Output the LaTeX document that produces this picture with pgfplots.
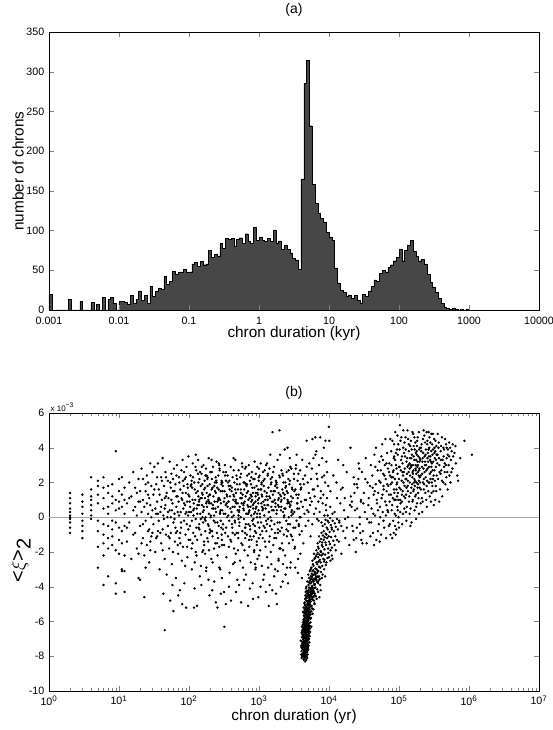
\documentclass[border=0pt]{standalone}
\usepackage{pgfplots}
\pgfplotsset{compat=1.18}
\usepackage{fontspec}
\setmainfont{Liberation Sans}
\begin{document}
\begin{tikzpicture}
\path[use as bounding box] (0,0) rectangle (414pt,547.5pt);
\begin{axis}[
  name=a,
  at={(36.75pt,315pt)}, anchor=south west,
  width=367.5pt, height=208.5pt, scale only axis,
  xmode=log, xmin=0.001, xmax=10000,
  ymin=0, ymax=350,
  xtick={0.001,0.01,0.1,1,10,100,1000,10000},
  xticklabels={0.001,0.01,0.1,1,10,100,1000,10000},
  ytick={0,50,...,350},
  xminorticks=false,
  /pgf/number format/assume math mode=true,
  tick label style={font=\fontsize{8}{9}\selectfont},
  xticklabel style={yshift=-1.5pt},
  major tick length=4pt,
  xlabel={chron duration (kyr)},
  ylabel={number of chrons},
  label style={font=\fontsize{11.5}{13}\selectfont},
  xlabel style={at={(axis description cs:0.5,-0.083)},anchor=center},
  ylabel style={at={(axis description cs:-0.063,0.5)},anchor=center},
  title={(a)},
  title style={font=\fontsize{10.5}{12}\selectfont, at={(axis description cs:0.5,1.05)}, anchor=center},
  axis on top,
]
\addplot[const plot, fill=black!72, draw=black, line width=0.3pt] coordinates {
(1.000e-3,20) (1.096e-3,0) (1.202e-3,0) (1.318e-3,0) (1.445e-3,0) (1.585e-3,0) (1.738e-3,0) (1.905e-3,13) (2.089e-3,0) (2.291e-3,0) (2.512e-3,0) (2.754e-3,11) (3.020e-3,0) (3.311e-3,0) (3.631e-3,0) (3.981e-3,10) (4.365e-3,0) (4.786e-3,7) (5.248e-3,0) (5.754e-3,16) (6.310e-3,0) (6.918e-3,13) (7.586e-3,16) (8.318e-3,9) (9.120e-3,0)
(1.000e-2,11) (1.096e-2,11) (1.202e-2,10) (1.318e-2,7) (1.445e-2,18) (1.585e-2,8) (1.738e-2,13) (1.905e-2,24) (2.089e-2,12) (2.291e-2,18) (2.512e-2,8) (2.754e-2,30) (3.020e-2,17) (3.311e-2,24) (3.631e-2,27) (3.981e-2,26) (4.365e-2,42) (4.786e-2,32) (5.248e-2,36) (5.754e-2,49) (6.310e-2,45) (6.918e-2,47) (7.586e-2,48) (8.318e-2,51) (9.120e-2,48)
(1.000e-1,48) (1.096e-1,58) (1.202e-1,60) (1.318e-1,55) (1.445e-1,61) (1.585e-1,57) (1.738e-1,58) (1.905e-1,75) (2.089e-1,66) (2.291e-1,70) (2.512e-1,68) (2.754e-1,84) (3.020e-1,78) (3.311e-1,90) (3.631e-1,89) (3.981e-1,90) (4.365e-1,80) (4.786e-1,89) (5.248e-1,91) (5.754e-1,84) (6.310e-1,96) (6.918e-1,86) (7.586e-1,84) (8.318e-1,104) (9.120e-1,88)
(1.000,92) (1.096,88) (1.202,86) (1.318,90) (1.445,86) (1.585,101) (1.738,84) (1.905,87) (2.089,76) (2.291,81) (2.512,76) (2.754,72) (3.020,65) (3.311,63) (3.631,51) (3.981,165) (4.365,285) (4.786,314) (5.248,232) (5.754,158) (6.310,135) (6.918,122) (7.586,115) (8.318,110) (9.120,98)
(10.00,92) (10.96,88) (12.02,53) (13.18,34) (14.45,25) (15.85,22) (17.38,17) (19.05,19) (20.89,15) (22.91,18) (25.12,12) (27.54,9) (30.20,20) (33.11,17) (36.31,24) (39.81,30) (43.65,38) (47.86,36) (52.48,46) (57.54,50) (63.10,48) (69.18,54) (75.86,57) (83.18,62) (91.20,66)
(100.0,77) (109.6,62) (120.2,75) (131.8,82) (144.5,88) (158.5,74) (173.8,68) (190.5,62) (208.9,64) (229.1,58) (251.2,45) (275.4,35) (302.0,29) (331.1,22) (363.1,15) (398.1,8) (436.5,4) (478.6,2) (524.8,1) (575.4,2) (631.0,1) (691.8,0) (758.6,1) (831.8,0) (912.0,1) (1000,0)
} \closedcycle;
\end{axis}

\begin{axis}[
  name=b,
  at={(36.75pt,29.25pt)}, anchor=south west,
  width=367.5pt, height=208.5pt, scale only axis,
  xmode=log, xmin=1, xmax=1e7,
  ymin=-10, ymax=6,
  ytick={-10,-8,...,6},
  xtick={1,10,100,1000,10000,100000,1000000,10000000},
  xticklabels={10\textsuperscript{0},10\textsuperscript{1},10\textsuperscript{2},10\textsuperscript{3},10\textsuperscript{4},10\textsuperscript{5},10\textsuperscript{6},10\textsuperscript{7}},
  /pgf/number format/assume math mode=true,
  tick label style={font=\fontsize{8}{9}\selectfont},
  major tick length=4pt, minor tick length=2pt,
  xlabel={chron duration (yr)},
  ylabel={<$\xi$>\raisebox{-0.3em}{2}},
  xlabel style={font=\fontsize{11.5}{13}\selectfont, at={(axis description cs:0.5,-0.0935)},anchor=center},
  ylabel style={font=\fontsize{15}{17}\selectfont, at={(axis description cs:-0.057,0.47)},anchor=center},
  title={(b)},
  title style={font=\fontsize{10.5}{12}\selectfont, at={(axis description cs:0.5,1.043)}, anchor=center},
]
\addplot[gray!70, line width=1pt] coordinates {(1,0) (1e7,0)};
\addplot[only marks, mark=*, mark size=0.7pt, mark options={draw=none, fill=black}] coordinates {
(2,-0.9)(2,-0.6)(2,-0.3)(2,-0.1)(2,0.1)(2,0.3)(2,0.5)(2,0.8)(2,1.1)(2,1.4)(2,0.0)
(3,1.3)(3,0.9)(3,0.6)(3,0.2)(3,-0.2)(3,-0.5)(3,-0.8)(3,-1.2)
(4,2.3)(4,1.6)(4,1.2)(4,1.0)(4,0.7)(4,0.4)(4,0.1)(4,-0.1)
(5,2.1)(5,1.8)(5,1.3)(5,0.8)(5,-0.2)(5,-0.8)(5,-1.7)(5,-2.9)
(6,2.3)(6,1.7)(6,1.1)(6,0.5)(6,-0.4)(6,-1.0)(6,-1.5)(6,-2.2)(6,-3.9)
(7,1.8)(7,1.4)(7,0.6)(7,0.2)(7,-0.5)(7,-1.2)(7,-1.8)(7,-3.4)
(8,1.9)(8,1.2)(8,0.8)(8,-0.2)(8,-0.7)(8,-1.1)(8,-1.6)
(9,3.8)(9,1.0)(9,0.4)(9,-0.3)(9,-1.9)(9,-3.8)(9,-4.4)
(10,2.2)(10,1.5)(10,0.9)(10,0.5)(10,-0.6)(10,-1.3)(10,-2.1)
(11,2.3)(11,1.3)(11,0.6)(11,-0.8)(11,-1.5)(11,-3.0)(11,-3.1)
(12,1.7)(12,1.0)(12,0.2)(12,-0.5)(12,-2.2)(12,-4.3)
(13,0.8)(13,-1.4)(14,2.0)(14,-0.3)(15,1.2)(15,-2.4)(16,0.4)(16,2.6)(17,-0.9)(17,1.7)(18,0.1)(18,-1.8)(19,2.2)(19,0.9)(20,-0.5)(20,1.5)(20,-3.6)(21,0.3)(21,2.8)(22,-1.2)(22,1.0)(23,-2.2)(23,0.6)(23,-4.6)(24,1.9)(24,-0.2)(25,2.4)(25,-1.6)(26,0.2)(26,1.3)(27,-2.6)(27,-0.7)(28,3.1)(28,0.7)(29,-1.1)(29,1.8)(13,-0.6)(14,1.1)(16,-1.0)(17,0.6)(18,1.4)(19,-2.1)(21,-1.5)(22,2.2)(24,-2.9)(26,-0.8)(27,1.1)(28,-1.9)(29,0.0)(30,2.6)(19,-3.5)(12,-3.1)
(31,1.3)(31,-0.4)(32,2.9)(33,0.5)(33,-2.0)(34,1.9)(35,-1.1)(35,0.9)(36,3.1)(37,-0.2)(37,1.6)(38,-3.0)(39,0.3)(40,2.3)(40,-1.5)(41,1.0)(42,-0.7)(42,3.4)(43,0.1)(44,1.8)(45,-6.5)(45,-2.4)(46,0.7)(46,2.6)(47,-1.0)(48,1.4)(48,-3.3)(49,0.0)(50,2.1)(50,-0.5)(51,1.1)(52,-1.8)(53,3.2)(53,0.4)(54,-4.8)(55,1.7)(55,-0.9)(56,2.5)(57,-2.7)(58,0.8)(59,1.5)(60,-0.3)(60,-5.4)(61,2.8)(62,0.2)(63,-1.4)(64,1.9)(65,-3.5)(66,0.6)(67,3.0)(68,-0.8)(69,1.2)(70,-2.1)(71,0.9)(72,2.3)(73,-1.2)(74,-4.2)(75,1.6)(76,0.3)(77,-0.6)(78,2.7)(79,-2.5)(80,1.0)(81,3.3)(82,-1.7)(83,0.5)(84,1.8)(85,-0.2)(86,-3.8)(87,2.2)(88,0.7)(89,-1.0)(90,1.4)(91,-5.2)(92,2.9)(93,-0.4)(94,0.9)(95,-2.3)(96,1.7)(97,0.1)(98,3.5)(99,-1.3)(34,-1.2)(36,0.2)(39,-0.9)(41,2.1)(44,-0.1)(47,1.2)(51,-1.1)(54,2.0)(57,0.4)(59,-2.0)(62,1.5)(64,-0.6)(66,2.4)(69,-1.6)(72,0.1)(75,-0.9)(78,1.1)(82,2.1)(85,0.8)(88,-2.8)(92,0.3)(95,1.9)(98,-0.7)(43,-4.4)(58,-3.9)(70,-4.5)(80,-5.0)
(101,1.2)(103,-0.5)(105,2.4)(107,0.3)(109,-1.8)(111,1.7)(113,3.1)(115,-0.9)(117,0.8)(119,2.0)(121,-2.6)(123,1.0)(125,-0.1)(127,2.7)(129,0.5)(131,-1.3)(133,1.5)(135,3.3)(137,-0.6)(139,0.9)(141,2.2)(143,-3.4)(145,0.2)(147,1.8)(149,-1.0)(151,2.5)(153,0.7)(155,-2.0)(157,1.3)(159,-0.3)(161,3.0)(163,0.4)(165,-1.6)(167,2.1)(169,1.1)(171,-0.8)(173,0.0)(175,2.8)(177,-2.9)(179,1.4)(181,0.6)(183,-1.2)(185,2.3)(187,-0.4)(189,1.0)(191,3.4)(193,-1.9)(195,0.8)(197,1.9)(199,-0.7)(202,2.6)(205,0.1)(208,-2.4)(211,1.6)(214,0.5)(217,-1.1)(220,2.9)(223,1.2)(226,-0.2)(229,-3.7)(232,0.9)(235,2.0)(238,-1.5)(241,1.4)(244,0.3)(247,3.2)(250,-0.9)(253,1.7)(256,-2.2)(259,0.6)(262,2.4)(265,-0.5)(268,1.1)(271,-1.7)(274,2.7)(277,0.2)(280,-3.0)(283,1.5)(286,0.8)(289,-0.6)(292,2.1)(295,-1.3)(298,0.4)
(104,0.6)(108,1.9)(112,-1.5)(116,0.1)(120,-4.1)(124,2.9)(128,-2.2)(132,0.7)(136,1.2)(140,-0.4)(144,2.6)(148,-2.8)(152,1.1)(156,0.0)(160,-1.9)(164,1.6)(168,-0.1)(172,2.4)(176,-3.1)(180,0.9)(184,1.8)(188,-1.4)(192,0.2)(196,-4.5)(200,1.3)(206,-0.8)(212,2.2)(218,-2.6)(224,0.5)(230,1.8)(236,-0.3)(242,-4.9)(248,2.0)(254,0.9)(260,-1.2)(266,3.1)(272,-2.9)(278,1.0)(284,-0.2)(290,1.9)(296,-3.5)(110,-3.0)(130,-5.1)(150,-3.9)(118,-5.2)(190,-3.6)(215,-4.2)(255,-5.2)(285,-4.4)(125,3.6)(210,3.3)(270,3.0)(320,-6.3)
(302,1.5)(306,-0.4)(310,2.6)(314,0.2)(318,-1.6)(322,1.1)(326,3.0)(330,-0.9)(334,0.7)(338,2.1)(342,-2.3)(346,1.3)(350,0.0)(355,2.4)(360,-1.1)(365,0.9)(370,1.8)(375,-0.2)(380,-3.2)(385,1.2)(390,0.5)(395,2.9)(400,-1.4)(405,0.3)(410,1.7)(415,-0.6)(420,2.3)(425,-2.7)(430,1.0)(435,0.1)(440,-1.8)(445,2.0)(450,0.6)(455,-0.3)(460,3.3)(465,-2.1)(470,1.4)(475,0.8)(480,-0.9)(485,2.2)(490,-3.6)(495,0.4)(500,1.6)(506,-1.2)(512,2.7)(518,0.3)(524,-0.5)(530,1.9)(536,-2.5)(542,1.1)(548,0.0)(554,2.5)(560,-1.5)(566,0.8)(572,3.1)(578,-0.8)(584,1.3)(590,-2.9)(596,0.5)(602,2.0)(608,-0.1)(614,1.6)(620,-1.9)(626,0.9)(632,2.8)(638,-0.6)(644,1.2)(650,-3.3)(657,0.2)(664,1.8)(671,-1.0)(678,2.4)(685,0.7)(692,-2.2)(699,1.5)(706,-0.4)(713,3.0)(720,0.3)(727,-1.7)(734,1.1)(741,2.1)(748,-0.7)(755,0.6)(762,-2.6)(769,1.9)(776,0.1)(783,-1.3)(790,2.6)(797,1.0)(804,-0.2)(811,-3.8)(818,1.4)(825,0.5)(832,2.2)(839,-1.1)(846,0.8)(853,-2.0)(860,1.7)(867,3.2)(874,-0.5)(881,0.3)(888,-3.0)(895,1.2)(902,2.5)(909,-0.9)(916,0.6)(923,1.8)(930,-1.6)(937,0.0)(944,2.9)(951,-2.4)(958,1.0)(965,-0.3)(972,1.6)(979,-4.6)(986,0.4)(993,2.3)
(316,-4.3)(335,-5.0)(372,-4.0)(398,-4.8)(433,3.4)(470,-4.3)(520,-3.9)(555,-4.9)(610,-3.6)(700,-5.1)(740,-4.1)(820,-4.7)(900,-2.9)(345,0.8)(380,1.6)(420,-0.9)(460,0.9)(510,-0.1)(550,1.4)(600,0.7)(650,1.9)(700,0.2)(760,1.3)(830,-0.4)(890,0.9)(950,1.4)(360,2.0)(440,1.2)(530,0.6)(630,-0.9)(730,0.4)(850,0.2)(990,-1.2)
(1005,1.1)(1012,-0.6)(1020,2.4)(1030,0.2)(1040,-1.9)(1050,1.6)(1060,3.1)(1070,-0.3)(1080,0.8)(1090,2.0)(1100,-2.8)(1110,1.2)(1120,0.4)(1130,-1.2)(1140,2.6)(1150,0.9)(1160,-0.5)(1170,1.8)(1180,-3.3)(1190,0.1)(1200,2.2)(1215,-1.4)(1230,1.0)(1245,0.5)(1260,3.0)(1275,-0.8)(1290,1.4)(1305,-2.3)(1320,0.7)(1335,2.5)(1350,-0.1)(1365,1.7)(1380,-5.1)(1395,0.3)(1410,2.8)(1425,-1.1)(1440,1.1)(1455,0.0)(1470,-2.0)(1485,1.9)(1500,0.6)(1520,-0.7)(1540,2.3)(1560,4.9)(1580,1.3)(1600,-1.6)(1620,0.4)(1640,2.9)(1660,-0.4)(1680,1.5)(1700,-3.0)(1720,0.8)(1740,2.1)(1760,-1.2)(1780,0.2)(1800,-5.0)(1820,1.7)(1840,3.3)(1860,-0.9)(1880,1.0)(1900,-2.5)(1920,0.6)(1940,2.4)(1960,5.0)(1980,-0.3)(2000,1.3)(2030,-1.8)(2060,0.9)(2090,2.7)(2120,-0.6)(2150,1.6)(2180,-3.7)(2210,0.3)(2240,2.0)(2270,-1.0)(2300,1.1)(2330,3.9)(2360,-2.2)(2390,0.5)(2420,1.8)(2450,-0.2)(2480,2.6)(2510,-2.9)(2540,0.8)(2570,1.4)(2600,-0.8)(2630,2.2)(2660,0.0)(2690,-1.5)(2720,1.9)(2750,3.4)(2780,-0.4)(2810,0.7)(2840,-2.6)(2870,1.2)(2900,2.8)(2930,-1.1)(2960,0.4)(2990,1.6)
(1050,-4.0)(1150,-3.6)(1250,-4.3)(1350,-2.9)(1420,-3.9)(1550,-4.2)(1650,-3.4)(1750,-4.4)(1850,-3.1)(2050,-4.0)(2200,-2.7)(2400,-3.3)(2600,-3.8)(2800,-2.9)(1100,0.6)(1200,1.5)(1300,-0.4)(1400,1.2)(1500,2.0)(1600,0.9)(1700,1.8)(1800,0.4)(1900,1.4)(2000,-0.8)(2100,1.0)(2200,2.4)(2300,0.5)(2500,1.5)(2700,0.8)(2900,0.1)(2550,4.0)(2000,3.6)(1450,3.6)
(3050,1.1)(3100,-0.6)(3150,2.5)(3200,0.3)(3260,-1.7)(3320,1.6)(3380,3.0)(3440,-0.2)(3500,0.8)(3560,2.1)(3620,-2.4)(3680,1.3)(3740,0.5)(3800,-1.0)(3870,2.7)(3940,0.0)(4010,1.7)(4080,-0.8)(4150,3.3)(4220,0.6)(4300,-1.5)(4380,1.9)(4460,0.2)(4540,2.4)(4620,-0.5)(4700,1.0)(4790,4.4)(4880,0.4)(4970,2.0)(5060,-0.2)(5150,1.4)(5250,3.1)(5350,0.7)(5450,-1.1)(5550,2.2)(5660,0.9)(5770,-0.4)(5880,1.6)(6000,3.4)(6120,0.2)(6240,1.2)(6370,4.6)(6500,0.5)(6630,2.5)(6770,-0.1)(6910,1.8)(7050,0.9)(7200,3.0)(7350,0.3)(7500,4.6)(7650,1.5)(7800,-0.3)(7960,2.3)(8120,0.8)(8290,1.3)(8460,4.0)(8630,0.1)(8810,2.0)(9000,0.7)(9180,3.2)(9370,1.1)(9560,-0.2)(9760,1.8)(9960,5.2)(3300,-2.9)(3600,-3.2)(3900,-2.1)(4100,-3.5)(3450,3.6)(3700,-0.5)(4000,0.9)(4250,2.2)(4500,1.0)(4800,2.9)(5100,0.3)(5400,1.1)(5700,2.8)(6100,1.6)(6400,3.6)(6800,2.2)(7100,-0.2)(7600,1.1)(8000,3.4)(8500,2.4)(9100,0.4)(9400,2.6)(10100,4.4)(10400,0.6)(8900,4.4)(6600,3.8)(5800,4.5)
(10500,1.5)(11000,-0.7)(11500,2.4)(12000,0.3)(12500,-1.9)(13000,1.1)(13500,3.3)(14000,-0.2)(14500,0.8)(15000,-2.1)(15700,1.7)(16400,0.4)(17100,-1.2)(17900,2.6)(18700,0.0)(19500,-1.6)(20300,4.0)(21200,0.9)(22100,-0.8)(23100,1.4)(24100,-2.0)(25200,0.5)(26300,2.2)(27500,-0.4)(28700,1.0)(30000,-1.5)(11200,-2.4)(12800,2.0)(14800,1.6)(16000,3.0)(18000,-0.6)(20000,0.7)(22500,-1.3)(25000,1.9)(28000,-0.9)(13800,-1.4)(16800,1.1)
(4150,-8.0)(4300,-7.9)(4420,-8.1)(4600,-7.8)(4780,-8.0)(4950,-7.9)(4050,-7.7)(4240,-7.6)(4380,-7.8)(4520,-7.5)(4680,-7.7)(4850,-7.4)(5050,-7.6)(3980,-7.4)(4120,-7.3)(4280,-7.2)(4450,-7.4)(4610,-7.1)(4760,-7.3)(4920,-7.2)(5150,-7.0)(4330,-8.2)(4550,-8.3)(4700,-8.2)(4880,-8.1)(4480,-7.95)(4180,-7.85)(4640,-7.65)(4820,-7.55)(4020,-7.9)(4360,-7.45)(4580,-7.35)(4720,-7.05)(4900,-7.75)(5000,-7.3)(4250,-7.0)(4100,-7.15)(4420,-7.15)(4560,-7.85)(4680,-7.45)(4800,-7.9)(4950,-7.1)(4200,-7.5)(4470,-7.6)(4620,-7.25)(4740,-7.6)(4870,-7.3)(4300,-7.35)(4520,-8.05)(4400,-7.7)(5250,-7.2)(3950,-7.1)(4060,-8.1)(4130,-7.55)(4660,-8.0)(4780,-7.15)(4980,-7.5)(5080,-7.05)(4340,-7.8)(4600,-7.55)
(4100,-6.9)(4250,-6.8)(4400,-6.95)(4550,-6.7)(4700,-6.85)(4850,-6.6)(5000,-6.9)(5200,-6.7)(4150,-6.5)(4320,-6.6)(4480,-6.4)(4620,-6.55)(4780,-6.3)(4930,-6.45)(5100,-6.2)(5350,-6.4)(4200,-6.2)(4380,-6.1)(4530,-6.25)(4680,-6.05)(4840,-6.2)(5000,-6.0)(5250,-6.1)(4060,-6.65)(4290,-6.35)(4450,-6.75)(4600,-6.15)(4750,-6.6)(4910,-6.8)(5070,-6.35)(5450,-6.05)(4360,-6.9)(4510,-6.5)(4660,-6.7)(4820,-6.45)(4960,-6.1)(5150,-6.55)(4230,-6.45)(4420,-6.25)(4580,-6.85)(4730,-6.35)(4880,-6.0)(5030,-6.65)(4470,-6.0)(4640,-6.45)(4800,-6.75)(4990,-6.25)(5300,-6.85)(4180,-6.75)(4330,-6.05)(4560,-6.55)(4700,-6.2)(4860,-6.9)(5120,-6.45)(5600,-6.3)(4950,-6.6)(4410,-6.5)(4760,-6.1)(4090,-6.3)(5380,-6.6)
(4300,-5.9)(4500,-5.8)(4700,-5.95)(4900,-5.7)(5100,-5.85)(5300,-5.6)(5550,-5.8)(4400,-5.5)(4600,-5.6)(4800,-5.4)(5000,-5.55)(5200,-5.3)(5450,-5.45)(5750,-5.25)(4350,-5.2)(4550,-5.3)(4750,-5.15)(4950,-5.05)(5150,-5.2)(5350,-5.0)(5650,-5.1)(6000,-5.3)(4450,-5.7)(4650,-5.25)(4850,-5.9)(5050,-5.35)(5250,-5.75)(5500,-5.15)(4250,-5.45)(4520,-5.05)(4720,-5.65)(4920,-5.25)(5120,-5.5)(5400,-5.85)(5850,-5.55)(4380,-5.65)(4620,-5.95)(4830,-5.35)(5030,-5.75)(5230,-5.1)(5600,-5.4)(4480,-5.35)(4680,-5.5)(4880,-5.0)(5080,-5.95)(5300,-5.45)(6200,-5.0)(4780,-5.8)(5180,-5.6)(4980,-5.4)
(4500,-4.9)(4750,-4.8)(5000,-4.95)(5250,-4.7)(5500,-4.85)(5800,-4.6)(6100,-4.8)(6500,-4.55)(4600,-4.5)(4850,-4.4)(5100,-4.6)(5350,-4.3)(5650,-4.45)(5950,-4.2)(6300,-4.4)(6800,-4.15)(4700,-4.1)(4950,-4.25)(5200,-4.05)(5450,-4.15)(5750,-4.0)(6050,-4.1)(7000,-4.3)(4550,-4.7)(4800,-4.65)(5050,-4.35)(5300,-4.9)(5550,-4.55)(5850,-4.75)(6200,-4.95)(4650,-4.3)(4900,-4.55)(5150,-4.8)(5400,-4.45)(5700,-4.25)(6000,-4.6)(6400,-4.05)(7300,-4.6)(4450,-4.95)(5600,-4.05)(6650,-4.7)(5900,-4.35)(4750,-4.0)(5250,-4.5)(7600,-4.2)
(5100,-3.9)(5400,-3.8)(5700,-3.95)(6000,-3.7)(6300,-3.85)(6600,-3.6)(7000,-3.8)(7400,-3.55)(5200,-3.5)(5500,-3.4)(5800,-3.6)(6100,-3.3)(6450,-3.45)(6800,-3.2)(7200,-3.4)(7700,-3.15)(5300,-3.1)(5650,-3.25)(5950,-3.05)(6250,-3.15)(6650,-3.0)(7050,-3.1)(8100,-3.3)(4900,-3.7)(5350,-3.65)(5850,-3.35)(6200,-3.9)(6500,-3.55)(6900,-3.75)(7500,-3.9)(8500,-3.0)(5050,-3.3)(5600,-3.75)(6350,-3.25)(7100,-3.65)(7900,-3.5)(8800,-3.4)(5450,-3.0)(6050,-3.55)(6750,-3.4)
(5600,-2.9)(6000,-2.8)(6400,-2.95)(6800,-2.7)(7200,-2.85)(7600,-2.6)(8000,-2.8)(8500,-2.55)(9000,-2.75)(5800,-2.5)(6200,-2.4)(6600,-2.6)(7000,-2.3)(7400,-2.45)(7800,-2.2)(8300,-2.4)(8800,-2.15)(9500,-2.35)(6100,-2.1)(6500,-2.25)(6900,-2.05)(7300,-2.15)(7700,-2.0)(8200,-2.1)(9200,-2.6)(10000,-2.3)(5900,-2.7)(6300,-2.35)(7100,-2.55)(7500,-2.9)(8600,-2.45)(9800,-2.05)(10500,-2.5)(11000,-2.2)(6700,-2.15)
(6600,-1.9)(7100,-1.8)(7600,-1.95)(8100,-1.7)(8600,-1.85)(9100,-1.6)(9700,-1.8)(10300,-1.55)(11000,-1.75)(6900,-1.5)(7400,-1.4)(7900,-1.6)(8400,-1.3)(8900,-1.45)(9400,-1.2)(10000,-1.4)(10700,-1.15)(11500,-1.35)(12300,-1.1)(7200,-1.1)(7700,-1.25)(8200,-1.05)(8700,-1.15)(9200,-1.0)(9900,-1.1)(10500,-1.9)(12000,-1.6)(13000,-1.3)(7000,-1.7)(8000,-1.45)
(7800,-0.9)(8400,-0.8)(9000,-0.95)(9600,-0.7)(10200,-0.85)(10900,-0.6)(11700,-0.8)(12500,-0.55)(13400,-0.7)(8100,-0.5)(8700,-0.4)(9300,-0.6)(9900,-0.3)(10600,-0.45)(11300,-0.2)(12100,-0.35)(13000,-0.1)(14000,-0.3)(15000,-0.5)(8900,-0.15)(9600,0.1)(10400,-0.05)(11200,0.2)(16000,-0.8)(17000,-0.1)
(20500,1.2)(21500,-0.5)(22500,2.3)(23500,0.4)(24500,-1.2)(25500,1.7)(26500,3.1)(27500,0.0)(28500,0.9)(29500,2.6)(30500,-0.8)(31500,1.4)(32500,0.3)(33500,3.4)(34500,-1.5)(35500,2.0)(36500,0.7)(37500,-0.3)(38500,1.8)(39500,3.0)(21000,0.6)(23000,1.9)(25000,-0.6)(27000,2.8)(29000,-1.3)(31000,0.8)(33000,2.2)(35000,-0.1)(37000,1.1)(39000,-1.1)
(40500,0.5)(41500,2.4)(42500,-0.9)(43500,1.3)(44500,3.6)(45500,0.1)(46500,1.9)(47500,-1.3)(48500,0.8)(49500,2.7)(50500,1.4)(51500,-0.4)(52500,3.2)(53500,0.6)(54500,2.0)(55500,-1.0)(56500,1.1)(57500,4.2)(58500,0.3)(59500,2.5)(60500,1.6)(61500,-0.6)(62500,3.0)(63500,0.9)(64500,2.2)(65500,-1.2)(66500,1.5)(67500,3.7)(68500,0.4)(69500,2.8)(40000,-0.3)(42000,1.7)(44000,-1.6)(46000,2.9)(48000,1.0)(50000,-0.8)(52000,2.1)(54000,0.0)(56000,3.5)(58000,1.3)(60000,-0.2)(62000,2.4)(64000,4.5)(66000,0.7)(68000,1.9)(43000,0.2)(47000,4.0)(53000,-1.4)(59000,3.3)(65000,0.1)
(70500,1.8)(71500,-0.5)(72500,3.1)(73500,0.9)(74500,2.4)(75500,-1.0)(76500,1.3)(77500,3.8)(78500,0.4)(79500,2.0)(80500,4.4)(81500,1.1)(82500,-0.2)(83500,2.7)(84500,1.6)(85500,3.5)(86500,0.2)(87500,2.2)(88500,4.9)(89500,1.0)(90500,3.0)(91500,-0.7)(92500,1.9)(93500,3.9)(94500,0.6)(95500,2.5)(96500,1.4)(97500,4.2)(98500,0.0)(99500,2.9)(101000,1.7)(103000,5.3)(105000,0.8)(107000,3.3)(109000,2.1)(111000,-0.4)(113000,1.5)(115000,4.0)(117000,2.6)(119000,0.5)(70000,0.3)(72000,2.6)(74000,-0.4)(76000,1.9)(78000,3.0)(80000,0.7)(82000,2.3)(84000,-0.9)(86000,1.4)(88000,3.3)(90000,0.1)(92000,2.8)(94000,1.2)(96000,3.6)(98000,-0.3)(100000,2.2)(102000,3.9)(104000,1.0)(106000,2.7)(108000,4.6)(110000,1.3)(112000,3.1)(114000,0.2)(116000,2.0)(118000,3.7)(75000,4.5)(85000,4.2)(95000,4.7)(105000,4.4)(115000,5.0)(80000,-1.2)(90000,-1.0)(100000,-0.6)(110000,0.9)(120000,1.8)
(121000,2.8)(123000,1.1)(125000,3.9)(127000,2.2)(129000,0.6)(131000,3.4)(133000,1.8)(135000,4.5)(137000,2.6)(139000,0.9)(141000,3.1)(143000,2.0)(145000,4.1)(147000,1.4)(149000,2.9)(151000,-0.3)(153000,3.6)(155000,2.3)(157000,1.0)(159000,4.8)(161000,2.7)(163000,1.6)(165000,3.3)(167000,0.4)(169000,2.1)(171000,4.3)(173000,3.0)(175000,1.3)(177000,2.5)(179000,3.8)(181000,0.8)(183000,2.9)(185000,4.6)(187000,1.9)(189000,3.5)(191000,2.4)(193000,0.2)(195000,3.2)(197000,1.7)(199000,4.0)(122000,3.5)(126000,0.3)(130000,2.5)(134000,1.5)(138000,3.8)(142000,2.8)(146000,0.5)(150000,3.4)(154000,1.9)(158000,3.0)(162000,4.1)(166000,2.2)(170000,1.2)(174000,3.7)(178000,2.0)(182000,4.4)(186000,2.6)(190000,1.1)(194000,3.9)(198000,2.3)(124000,4.6)(132000,5.0)(140000,1.2)(148000,4.4)(156000,0.9)(164000,2.0)(172000,2.8)(180000,3.6)(188000,1.4)(196000,2.8)(128000,1.7)(136000,3.0)(144000,2.4)(152000,3.9)(160000,1.5)(168000,3.9)(176000,0.6)(184000,3.2)(192000,4.9)(200000,2.0)(127500,-0.2)(145500,-0.5)(175500,-0.1)(155500,4.9)
(202000,3.3)(206000,1.6)(210000,4.2)(214000,2.5)(218000,0.9)(222000,3.7)(226000,2.2)(230000,4.7)(234000,3.0)(238000,1.4)(242000,3.9)(246000,2.7)(250000,0.6)(255000,4.4)(260000,3.2)(265000,2.0)(270000,4.0)(275000,1.2)(280000,3.5)(285000,2.6)(290000,4.8)(295000,3.1)(300000,1.8)(306000,3.9)(312000,2.4)(318000,4.5)(324000,3.4)(330000,1.0)(336000,2.9)(342000,4.1)(204000,2.4)(208000,3.8)(212000,1.1)(216000,3.2)(220000,4.5)(224000,2.8)(228000,1.9)(232000,3.5)(236000,4.3)(240000,2.3)(244000,3.0)(248000,4.9)(252000,2.1)(258000,3.7)(262000,1.5)(268000,2.9)(272000,4.6)(278000,3.3)(282000,2.2)(288000,3.8)(292000,1.4)(298000,4.2)(302000,2.7)(308000,3.2)(314000,0.7)(320000,3.7)(326000,2.1)(332000,4.4)(338000,3.3)(345000,2.4)(215000,0.3)(245000,1.0)(285000,0.9)(265000,4.9)(225000,5.0)(305000,4.8)(335000,1.8)(255000,3.4)(275000,2.5)(295000,2.0)
(355000,3.6)(362000,2.2)(370000,4.3)(378000,3.0)(386000,1.6)(394000,3.8)(402000,2.7)(410000,4.6)(420000,3.3)(430000,2.0)(440000,3.9)(450000,3.1)(460000,1.9)(470000,4.2)(480000,3.4)(490000,2.6)(500000,3.9)(512000,3.0)(525000,2.4)(538000,4.0)(552000,3.3)(566000,3.8)(580000,2.8)(595000,3.5)(358000,4.8)(375000,0.9)(392000,2.5)(415000,1.2)(435000,3.5)(455000,4.5)(475000,2.3)(495000,1.6)(520000,4.3)(545000,2.0)(585000,4.2)
(620000,3.7)(650000,3.1)(680000,2.4)(700000,2.1)(750000,3.4)(860000,4.4)(1100000,3.6)(640000,4.1)
};
\addplot[only marks, mark=*, mark size=0.7pt, mark options={draw=none, fill=black}] coordinates {
(102,0.9)(106,1.8)(110,-0.2)(114,2.3)(118,0.5)(122,-1.1)(126,1.4)(131,0.2)(136,2.0)(141,-0.7)(146,1.1)(152,2.9)(158,0.3)(164,-1.4)(170,1.7)(176,0.8)(183,2.2)(190,-0.5)(197,1.3)(204,0.0)(212,2.6)(220,0.7)(228,-1.8)(236,1.5)(245,2.1)(254,-0.3)(263,1.0)(273,2.8)(283,0.4)(293,-1.0)(304,1.8)(315,0.9)(327,2.4)(339,-0.6)(351,1.2)(364,0.1)(377,2.1)(391,-1.3)(405,1.5)(420,0.6)(435,2.7)(451,-0.2)(468,1.0)(485,1.9)(503,-0.9)(521,0.4)(540,2.3)(560,1.1)(581,-1.6)(602,0.8)(624,2.0)(647,-0.4)(671,1.4)(696,0.2)(721,2.5)(748,-1.1)(775,0.9)(804,1.7)(833,-0.1)(864,2.2)(896,0.5)(929,-1.4)(963,1.3)(998,2.8)(1035,0.0)(1073,1.6)(1112,-0.8)(1153,2.1)(1196,0.7)(1240,-1.7)(1285,1.2)(1332,2.4)(1381,0.3)(1432,-0.5)(1485,1.5)(1540,0.9)(1596,2.6)(1655,-1.2)(1716,0.6)(1779,1.9)(1845,-0.3)(1913,1.1)(1983,2.3)(2056,0.4)(2132,-1.5)(2210,1.4)(2292,0.1)(2376,2.0)(2463,-0.7)(2554,1.0)(2648,2.7)(2745,0.6)(2846,-1.0)(2951,1.7)(3059,0.2)(3172,2.2)(3289,-0.6)(3410,1.3)(3535,0.8)(3665,2.5)(3800,0.0)(3940,1.6)
(104,-1.3)(109,2.1)(115,0.4)(121,1.6)(127,-0.6)(134,2.5)(140,1.0)(147,-0.1)(155,1.9)(162,0.6)(170,-2.1)(179,2.4)(188,1.2)(197,-0.9)(207,0.8)(217,1.7)(228,0.1)(240,2.3)(252,-1.5)(264,1.1)(278,0.3)(292,2.0)(306,-0.7)(322,1.5)(338,2.6)(355,0.6)(372,-1.7)(391,1.8)(411,0.0)(431,1.3)(453,-1.0)(476,2.4)(500,0.8)(525,-0.3)(551,1.6)(579,2.9)(608,0.4)(638,-1.2)(670,1.9)(704,1.0)(739,-0.5)(776,2.3)(815,0.7)(856,-1.9)(899,1.4)(944,0.2)(991,2.1)(1041,-1.0)(1093,1.3)(1148,0.5)(1205,2.7)(1265,-0.2)(1329,1.0)(1395,-1.4)(1465,2.2)(1538,0.4)(1615,1.5)(1696,-0.9)(1781,2.0)(1870,0.7)(1963,-1.8)(2062,1.2)(2165,2.5)(2273,0.0)(2387,1.7)(2506,-1.1)(2631,0.9)(2763,2.1)(2901,0.3)(3046,-1.3)(3198,1.5)(3358,2.8)(3526,0.5)(3702,-0.4)(3887,1.9)
(100,0.3)(112,1.0)(125,-2.0)(139,0.7)(154,1.4)(172,-0.2)(192,0.9)(214,-0.8)(238,0.5)(266,1.6)(296,-1.6)(330,0.2)(368,0.9)(410,-0.4)(457,1.6)(509,0.1)(567,1.1)(632,-0.6)(704,0.6)(785,1.2)(875,-0.8)(975,0.8)(1087,1.9)(1211,-0.6)(1350,0.7)(1505,-0.2)(1677,1.0)(1869,-0.7)(2083,0.6)(2322,1.3)(2588,-0.4)(2884,0.9)(3215,-1.8)(3583,1.1)(300,2.0)(450,-2.6)(650,2.9)(880,-2.7)(1300,3.1)(1900,-2.4)(2800,2.9)(500,-1.9)(720,-1.3)(1000,-2.2)(1500,-2.7)(2200,-1.9)
(20,0.9)(22,-0.4)(24,1.5)(26,2.0)(28,-1.4)(30,0.4)(32,1.6)(34,0.2)(36,-0.8)(38,1.3)(40,0.6)(42,-1.9)(45,1.1)(47,2.3)(50,0.3)(53,-1.2)(56,1.0)(59,2.2)(62,-0.1)(66,1.2)(69,0.3)(73,2.0)(77,-0.3)(81,1.4)(85,2.6)(89,0.2)(94,-1.7)(98,1.3)(35,2.3)(55,0.0)(75,-1.5)(90,2.3)(65,-0.9)(45,0.5)(30,-0.9)(25,0.8)
(4200,-7.95)(4350,-7.65)(4500,-7.25)(4650,-7.9)(4800,-7.45)(4950,-7.65)(4150,-7.4)(4310,-7.05)(4460,-7.85)(4610,-7.45)(4760,-7.75)(4910,-7.35)(4400,-8.0)(4700,-7.4)(4250,-7.25)(4550,-7.1)(4850,-7.0)(5100,-7.4)(4050,-7.5)(4650,-8.2)
(4150,-6.6)(4300,-6.85)(4450,-6.15)(4600,-6.95)(4750,-6.45)(4900,-6.25)(5050,-6.8)(5200,-6.3)(4250,-6.05)(4400,-6.4)(4550,-6.1)(4700,-6.7)(4850,-6.35)(5000,-6.5)(4500,-6.6)(4800,-6.9)(4350,-6.75)(4950,-6.15)(5300,-6.25)(4650,-6.3)
(4400,-5.85)(4550,-5.45)(4700,-5.3)(4850,-5.6)(5000,-5.2)(5150,-5.7)(5300,-5.3)(4600,-5.1)(4900,-5.8)(5200,-5.0)(4500,-5.5)(4800,-5.25)(5100,-5.45)(5450,-5.6)(4650,-5.75)
(4700,-4.6)(4900,-4.85)(5100,-4.2)(5300,-4.6)(5500,-4.35)(5700,-4.7)(5900,-4.1)(6200,-4.5)(4800,-4.25)(5000,-4.45)(5400,-4.75)(5800,-4.4)(6100,-4.3)(5200,-4.9)(5600,-4.25)
(5200,-3.75)(5500,-3.55)(5800,-3.1)(6100,-3.85)(6400,-3.3)(6700,-3.7)(7000,-3.45)(5700,-3.45)(6300,-3.6)(6900,-3.1)
(82000,2.6)(86000,1.0)(90000,3.7)(94000,2.0)(98000,1.0)(102000,2.9)(106000,1.6)(110000,3.5)(114000,2.4)(118000,1.2)(124000,2.2)(128000,3.2)(134000,2.1)(138000,4.2)(144000,3.4)(150000,1.7)(156000,2.6)(162000,3.5)(168000,1.8)(174000,2.7)(180000,4.1)(186000,3.0)(192000,2.1)(198000,3.4)(206000,4.0)(212000,2.9)(218000,3.4)(226000,1.6)(232000,2.6)(240000,3.6)(248000,1.8)(256000,2.8)(264000,3.9)(272000,2.0)(280000,4.3)(290000,2.9)(300000,3.6)(310000,1.5)(320000,2.7)(330000,3.8)(340000,1.5)(352000,3.1)(366000,4.0)(380000,2.6)(396000,3.3)(412000,2.1)(430000,4.0)(450000,2.6)(470000,3.0)(495000,3.6)(88000,-0.5)(96000,0.4)(104000,0.3)(112000,2.6)(120000,4.3)(126000,1.3)(132000,2.9)(142000,0.2)(148000,3.0)(158000,2.5)(166000,4.6)(176000,3.3)(184000,1.7)(194000,2.7)(204000,0.8)(220000,2.0)(236000,3.2)(252000,4.2)(268000,3.5)(286000,3.2)(304000,2.2)(322000,4.0)(344000,3.6)(372000,3.4)(400000,4.1)(440000,2.9)(480000,4.0)(520000,3.5)(560000,2.6)(60000,1.8)(50000,0.4)(55000,2.7)(45000,1.5)(66000,3.1)(72000,1.3)(78000,2.3)(84000,3.4)(92000,1.6)
};
\end{axis}
\node[anchor=south west, inner sep=1pt, font=\fontsize{6}{7}\selectfont] at (b.north west) {x 10\textsuperscript{−3}};
\end{tikzpicture}
\end{document}
